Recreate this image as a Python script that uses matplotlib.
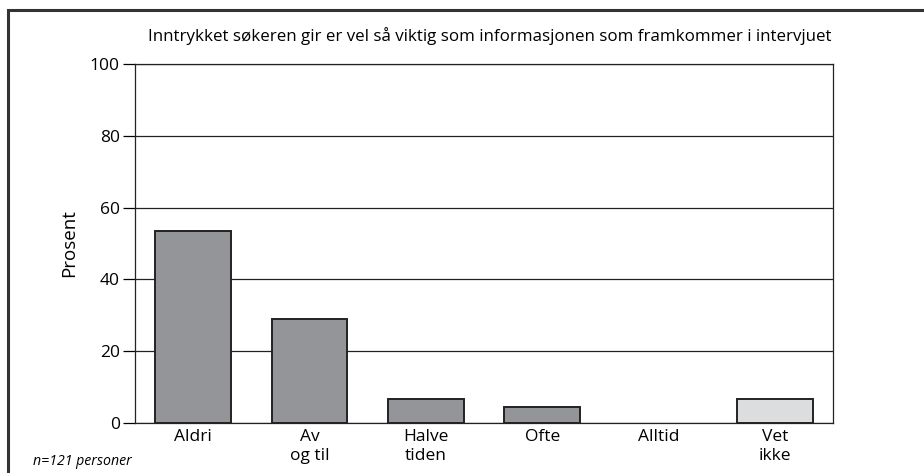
import matplotlib.pyplot as plt
from matplotlib.patches import Rectangle

categories = ['Aldri', 'Av\nog til', 'Halve\ntiden', 'Ofte', 'Alltid', 'Vet\nikke']
values = [53.5, 28.8, 6.7, 4.4, 0, 6.7]
colors = ['#939598', '#939598', '#939598', '#939598', '#939598', '#dcddde']
yticks = [0, 20, 40, 60, 80, 100]

plt.rcParams['font.family'] = ['Open Sans', 'DejaVu Sans']

fig = plt.figure(figsize=(9.24, 4.73), dpi=100)
ax = fig.add_axes([135 / 924, 1 - 422.5 / 473, 698 / 924, 358 / 473])

x = range(len(categories))
edge_widths = [1.4 if v > 0 else 0 for v in values]
ax.bar(x, values, width=0.65, color=colors, edgecolor='#222222', linewidth=edge_widths, zorder=3)

ax.set_xlim(-0.5, len(categories) - 0.5)
ax.set_ylim(0, 100)
ax.set_yticks(yticks)
ax.yaxis.grid(True, color='#222222', linewidth=0.9, zorder=0)
ax.set_xticks(list(x))
ax.set_xticklabels(categories, fontsize=12.5, linespacing=1.2)
ax.tick_params(axis='x', length=0, pad=5)
ax.tick_params(axis='y', length=9, width=0.9, labelsize=12.5, pad=2)
for s in ax.spines.values():
    s.set_linewidth(0.9)
    s.set_color('#222222')
ax.set_ylabel('Prosent', fontsize=13.5, labelpad=8)

fig.text(490 / 924, 1 - 36 / 473, 'Inntrykket søkeren gir er vel så viktig som informasjonen som framkommer i intervjuet',
         ha='center', va='center', fontsize=12.2)
fig.text(33 / 924, 1 - 461 / 473, 'n=121 personer', ha='left', va='center', fontsize=10.2, style='italic')

# outer frame, runs off the right and bottom edges
fig.patches.append(Rectangle((8 / 924, -0.1), 1.2, 1 - 10 / 473 + 0.1, transform=fig.transFigure,
                             fill=False, edgecolor='#333333', linewidth=2.2))

fig.savefig('out.png', dpi=100)
